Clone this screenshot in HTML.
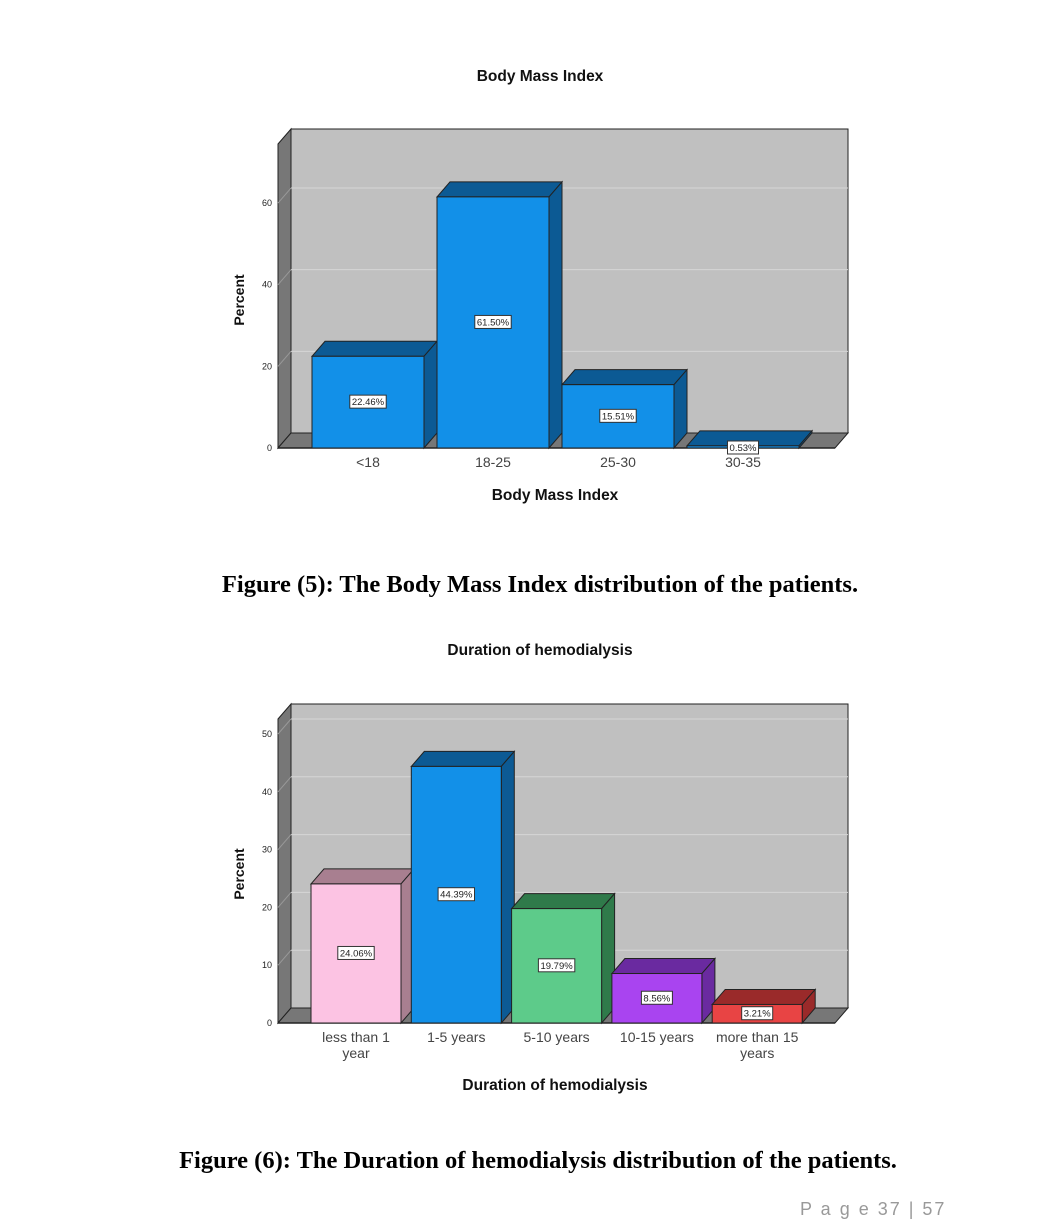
<!DOCTYPE html>
<html><head><meta charset="utf-8">
<style>
body{margin:0;background:#fff;width:1056px;height:1209px;overflow:hidden;position:relative;font-family:"Liberation Sans",sans-serif}
.cap{position:absolute;left:0;width:1080px;text-align:center;font-family:"Liberation Serif",serif;font-weight:bold;font-size:24.5px}
svg{position:absolute;left:0;top:0}
</style></head><body>
<svg id="s" width="1056" height="1209"></svg>
<div class="cap" style="top:571px">Figure (5): The Body Mass Index distribution of the patients.</div>
<div class="cap" style="top:1147px;left:-2px">Figure (6): The Duration of hemodialysis distribution of the patients.</div>
<div style="position:absolute;left:800px;top:1199px;font-size:18px;color:#999;letter-spacing:2px">P a g e 37 | 57</div>
<script>
const bmiCats=["<18","18-25","25-30","30-35"];
const bmiVals=[22.46,61.50,15.51,0.53];
const bmiTicks=[0,20,40,60];
const durCats=[["less than 1","year"],["1-5 years"],["5-10 years"],["10-15 years"],["more than 15","years"]];
const durVals=[24.06,44.39,19.79,8.56,3.21];
const durTicks=[0,10,20,30,40,50];
const NS="http://www.w3.org/2000/svg";
const svg=document.getElementById('s');
function el(t,a,p){const e=document.createElementNS(NS,t);for(const k in a)e.setAttribute(k,a[k]);(p||svg).appendChild(e);return e;}
function chart(o){
  const g=el('g',{});
  
  
  const L=278,R=835,DX=13,DY=15,base=o.base,top=o.top;
  const y=v=>base-v*o.k;
  el('rect',{x:L+DX,y:top,width:R-L,height:base-DY-top,fill:'#c0c0c0',stroke:'#222','stroke-width':1},g);
  el('polygon',{points:`${L},${top+DY} ${L+DX},${top} ${L+DX},${base-DY} ${L},${base}`,fill:'#777',stroke:'#222','stroke-width':1},g);
  el('polygon',{points:`${L},${base} ${L+DX},${base-DY} ${R+DX},${base-DY} ${R},${base}`,fill:'#777',stroke:'#222','stroke-width':1},g);
  o.ticks.forEach(t=>{
    if(t>0){const l=el('line',{x1:L+DX,x2:R+DX,y1:y(t)-DY,y2:y(t)-DY,stroke:'#d6d6d6','stroke-width':1},g);
      
      
      el('line',{x1:L,x2:L+DX,y1:y(t),y2:y(t)-DY,stroke:'#999','stroke-width':1},g);}
    const tx=el('text',{x:L-6,y:y(t)+3,'font-size':9,'text-anchor':'end',fill:'#222'},g);tx.textContent=t;
    
    
  });
  el('line',{x1:L,x2:R,y1:base,y2:base,stroke:'#222','stroke-width':1.5},g);
  o.vals.forEach((v,i)=>{
    const x0=o.x0+i*o.step,w=o.w,yt=y(v);
    const c=o.col[i%o.col.length];
    const bg=el('g',{},g);
    
    
    el('polygon',{points:`${x0},${yt} ${x0+DX},${yt-DY} ${x0+w+DX},${yt-DY} ${x0+w},${yt}`,fill:c[1],stroke:'#222','stroke-width':1},bg);
    el('polygon',{points:`${x0+w},${yt} ${x0+w+DX},${yt-DY} ${x0+w+DX},${base-DY} ${x0+w},${base}`,fill:c[1],stroke:'#222','stroke-width':1},bg);
    el('rect',{x:x0,y:yt,width:w,height:base-yt,fill:c[0],stroke:'#222','stroke-width':1},bg);
    const lab=(v.toFixed(2))+'%';
    const lw=lab.length*5.4+4;
    const ly=(base-yt)>14?(yt+base)/2:base;
    el('rect',{x:x0+w/2-lw/2,y:ly-7,width:lw,height:13,fill:'#fff',stroke:'#333','stroke-width':1},bg);
    const t=el('text',{x:x0+w/2,y:ly+3,'font-size':9.5,'text-anchor':'middle',fill:'#222'},bg);t.textContent=lab;
    
    
    const cat=o.cats[i];const lines=Array.isArray(cat)?cat:[cat];
    lines.forEach((s,j)=>{const ct=el('text',{x:x0+w/2,y:base+19+j*16,'font-size':14,'text-anchor':'middle',fill:'#444'},g);ct.textContent=s;
      
      });
  });
  const tt=el('text',{x:540,y:o.titleY,'font-size':15.5,'font-weight':'bold','text-anchor':'middle',fill:'#111'},g);tt.textContent=o.title;
  
  
  const xt=el('text',{x:555,y:o.xtY,'font-size':15.5,'font-weight':'bold','text-anchor':'middle',fill:'#111'},g);xt.textContent=o.xt;
  
  
  const yt=el('text',{x:0,y:0,'font-size':14,'font-weight':'bold','text-anchor':'middle',fill:'#111',transform:`translate(244,${o.ytY}) rotate(-90)`},g);yt.textContent='Percent';
  
  
}
const blue=['#1290e8','#0c5a94'];
chart({name:'bmi-chart',base:448,top:129,k:4.083,ticks:bmiTicks,vals:bmiVals,cats:bmiCats,x0:312,step:125,w:112,col:[blue],title:'Body Mass Index',titleY:81,xt:'Body Mass Index',xtY:500,ytY:300});
chart({name:'duration-chart',base:1023,top:704,k:5.78,ticks:durTicks,vals:durVals,cats:durCats,x0:311,step:100.3,w:90,col:[['#fcc3e3','#a87f90'],blue,['#5dcb8a','#2f7a4a'],['#a944f0','#6a2aa0'],['#e84444','#9a2a2a']],title:'Duration of hemodialysis',titleY:655,xt:'Duration of hemodialysis',xtY:1090,ytY:874});
</script>
</body></html>
